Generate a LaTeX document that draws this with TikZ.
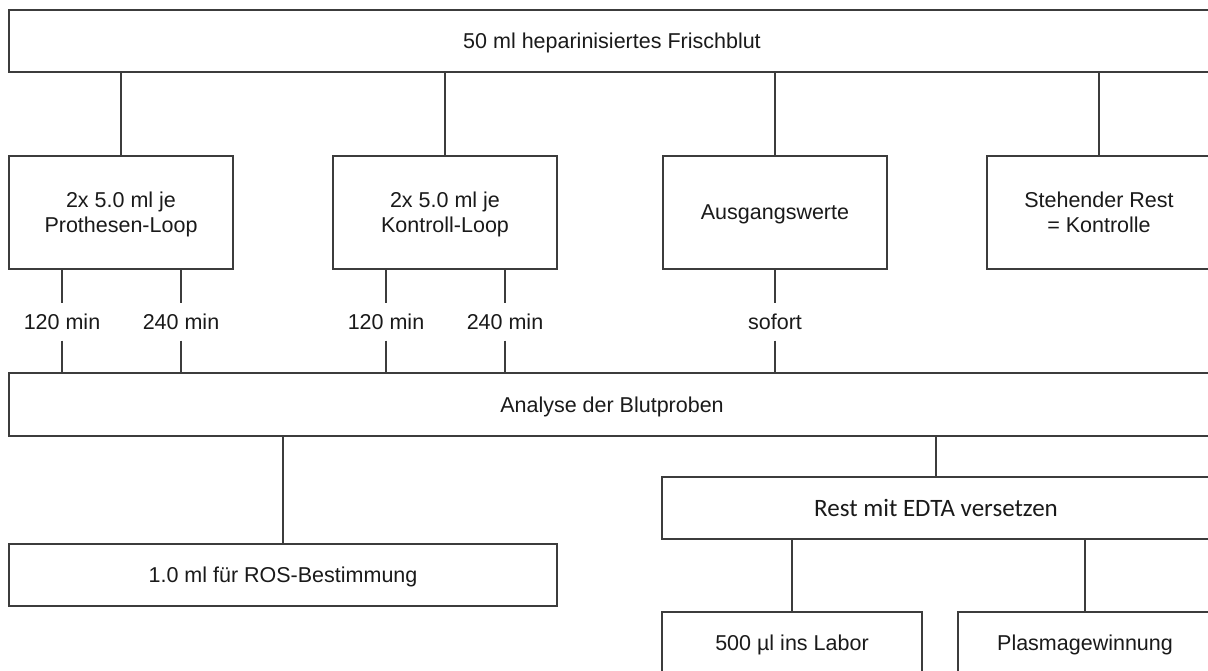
\documentclass[tikz,border=0pt]{standalone}
\usepackage{fontspec}
\setmainfont{Liberation Sans}
\newfontfamily\calfont{Carlito}
\definecolor{linecol}{HTML}{3C3C3C}
\definecolor{txtcol}{HTML}{1A1A1A}
\begin{document}
\begin{tikzpicture}[x=1pt,y=-1pt,
  box/.style={draw=linecol,line width=1.3pt,fill=white,inner sep=0pt,align=center,
    text=txtcol,text depth=0pt,font=\fontsize{21.5}{25}\selectfont},
  lbl/.style={inner sep=0pt,minimum height=37pt,text=txtcol,font=\fontsize{21.5}{25}\selectfont},
  conn/.style={draw=linecol,line width=1.3pt}]
\useasboundingbox (0,0) rectangle (1208,670);
\clip (0,0) rectangle (1208,670);
\fill[white] (0,0) rectangle (1208,670);
% top
\node[box,minimum width=1206pt,minimum height=62pt] (top) at (612,41) {50 ml heparinisiertes Frischblut};
% row 2
\node[box,minimum width=224pt,minimum height=113pt] (b1) at (121,212.5) {2x 5.0 ml je\\Prothesen-Loop};
\node[box,minimum width=224pt,minimum height=113pt] (b2) at (445,212.5) {2x 5.0 ml je\\Kontroll-Loop};
\node[box,minimum width=224pt,minimum height=113pt] (b3) at (775,212.5) {Ausgangswerte};
\node[box,minimum width=224pt,minimum height=113pt] (b4) at (1099,212.5) {Stehender Rest\\= Kontrolle};
% labels
\node[lbl] (l1) at (62,322) {120 min};
\node[lbl] (l2) at (181,322) {240 min};
\node[lbl] (l3) at (386,322) {120 min};
\node[lbl] (l4) at (505,322) {240 min};
\node[lbl] (l5) at (775,322) {sofort};
% analysis
\node[box,minimum width=1206pt,minimum height=63pt] (ana) at (612,404.5) {Analyse der Blutproben};
% ROS
\node[box,minimum width=548pt,minimum height=62pt] (ros) at (283,575) {1.0 ml für ROS-Bestimmung};
% EDTA
\node[box,minimum width=548pt,minimum height=62pt,font=\calfont\fontsize{25}{29}\selectfont] (edta) at (936,508) {Rest mit EDTA versetzen};
% bottom
\node[box,minimum width=260pt,minimum height=62pt] (lab) at (792,643) {500 µl ins Labor};
\node[box,minimum width=254pt,minimum height=62pt] (plasma) at (1085,643) {Plasmagewinnung};
% connectors
\draw[conn] (top.south -| b1.north) -- (b1.north);
\draw[conn] (top.south -| b2.north) -- (b2.north);
\draw[conn] (top.south -| b3.north) -- (b3.north);
\draw[conn] (top.south -| b4.north) -- (b4.north);
\foreach \b/\l in {b1/l1,b1/l2,b2/l3,b2/l4,b3/l5}{
  \draw[conn] (\b.south -| \l.north) -- (\l.north);
  \draw[conn] (\l.south) -- (ana.north -| \l.south);
}
\draw[conn] (ana.south -| ros.north) -- (ros.north);
\draw[conn] (ana.south -| edta.north) -- (edta.north);
\draw[conn] (edta.south -| lab.north) -- (lab.north);
\draw[conn] (edta.south -| plasma.north) -- (plasma.north);
\end{tikzpicture}
\end{document}
